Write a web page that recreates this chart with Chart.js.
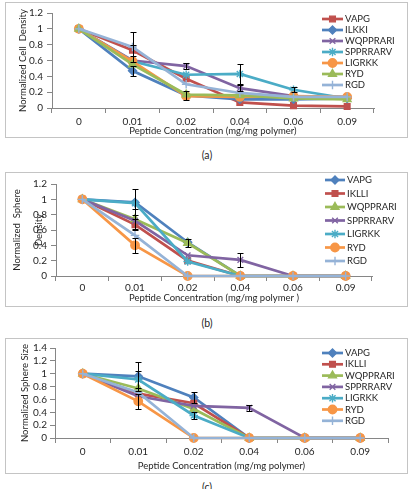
<!DOCTYPE html>
<html><head><meta charset="utf-8">
<script src="https://cdn.jsdelivr.net/npm/chart.js@4"></script>
<style>
html,body{margin:0;padding:0;background:#fff;overflow:hidden;width:410px;height:489px;}
.box{position:absolute;box-sizing:border-box;border:1px solid #c4c4c4;background:#fff;}
.box canvas{position:absolute;left:0;top:0;}
.cap{position:absolute;font:10.5px Lato, sans-serif;color:#262626;width:40px;text-align:center;line-height:12px;}
</style></head><body>
<div class="box" style="left:5px;top:2px;width:403px;height:136px;"><canvas id="cA" width="401" height="134"></canvas></div>
<div class="cap" style="left:187px;top:149px;">(a)</div>
<div class="box" style="left:5px;top:172px;width:403px;height:135px;"><canvas id="cB" width="401" height="133"></canvas></div>
<div class="cap" style="left:187px;top:317px;">(b)</div>
<div class="box" style="left:5px;top:338px;width:403px;height:136px;"><canvas id="cC" width="401" height="134"></canvas></div>
<div class="cap" style="left:187px;top:481px;">(c)</div>
<script>
// ---------- data ----------
const categories = ['0','0.01','0.02','0.04','0.06','0.09'];
const yTicks12 = ['0','0.2','0.4','0.6','0.8','1','1.2'];
const yTicks14 = ['0','0.2','0.4','0.6','0.8','1','1.2','1.4'];

// (a) Normalized cell density
const aNames = ['VAPG','ILKKI','WQPPRARI','SPPRRARV','LIGRKK','RYD','RGD'];
const aVAPG     = [1, 0.73, 0.37, 0.07, 0.03, 0.02];
const aILKKI    = [1, 0.47, 0.16, 0.11, 0.11, 0.12];
const aWQPPRARI = [1, 0.60, 0.53, 0.25, 0.15, 0.14];
const aSPPRRARV = [1, 0.59, 0.42, 0.43, 0.23, 0.12];
const aLIGRKK   = [1, 0.59, 0.15, 0.14, 0.15, 0.14];
const aRYD      = [1, 0.55, 0.17, 0.16, 0.12, 0.11];
const aRGD      = [1, 0.77, 0.30, 0.19, 0.14, 0.14];
const aVAPGErr     = [0, 0.07, 0, 0, 0, 0];
const aILKKIErr    = [0, 0.06, 0.06, 0, 0, 0];
const aWQPPRARIErr = [0, 0, 0.04, 0.04, 0, 0];
const aSPPRRARVErr = [0, 0, 0, 0.13, 0.03, 0];
const aLIGRKKErr   = [0, 0, 0, 0, 0, 0];
const aRYDErr      = [0, 0, 0, 0, 0, 0];
const aRGDErr      = [0, 0.19, 0, 0, 0, 0];

// (b) Normalized sphere density
const bNames = ['VAPG','IKLLI','WQPPRARI','SPPRRARV','LIGRKK','RYD','RGD'];
const bVAPG     = [1, 0.96, 0.44, 0, 0, 0];
const bIKLLI    = [1, 0.67, 0.20, 0, 0, 0];
const bWQPPRARI = [1, 0.74, 0.43, 0, 0, 0];
const bSPPRRARV = [1, 0.72, 0.27, 0.21, 0, 0];
const bLIGRKK   = [1, 0.95, 0.19, 0, 0, 0];
const bRYD      = [1, 0.40, 0, 0, 0, 0];
const bRGD      = [1, 0.53, 0, 0, 0, 0];
const bVAPGErr     = [0, 0.17, 0, 0, 0, 0];
const bIKLLIErr    = [0, 0.07, 0, 0, 0, 0];
const bWQPPRARIErr = [0, 0.13, 0.05, 0, 0, 0];
const bSPPRRARVErr = [0, 0, 0, 0.09, 0, 0];
const bLIGRKKErr   = [0, 0, 0, 0, 0, 0];
const bRYDErr      = [0, 0.10, 0, 0, 0, 0];
const bRGDErr      = [0, 0, 0, 0, 0, 0];

// (c) Normalized sphere size
const cNames = ['VAPG','IKLLI','WQPPRARI','SPPRRARV','LIGRKK','RYD','RGD'];
const cVAPG     = [1, 0.96, 0.63, 0, 0, 0];
const cIKLLI    = [1, 0.69, 0.54, 0, 0, 0];
const cWQPPRARI = [1, 0.77, 0.45, 0, 0, 0];
const cSPPRRARV = [1, 0.65, 0.50, 0.47, 0, 0];
const cLIGRKK   = [1, 0.91, 0.35, 0, 0, 0];
const cRYD      = [1, 0.57, 0, 0, 0, 0];
const cRGD      = [1, 0.71, 0, 0, 0, 0];
const cVAPGErr     = [0, 0.23, 0.08, 0, 0, 0];
const cIKLLIErr    = [0, 0, 0, 0, 0, 0];
const cWQPPRARIErr = [0, 0, 0, 0, 0, 0];
const cSPPRRARVErr = [0, 0, 0, 0.05, 0, 0];
const cLIGRKKErr   = [0, 0.13, 0.05, 0, 0, 0];
const cRYDErr      = [0, 0.12, 0, 0, 0, 0];
const cRGDErr      = [0, 0, 0, 0, 0, 0];

// ---------- styles ----------
const ST = {
  blue:  {c:'#4F81BD', p:'rectRot',  r:4},
  red:   {c:'#C0504D', p:'rect',     r:4},
  green: {c:'#9BBB59', p:'triangle', r:4.5},
  purple:{c:'#8064A2', p:'crossRot', r:4},
  aqua:  {c:'#4BACC6', p:'star',     r:4.3},
  orange:{c:'#F79646', p:'circle',   r:4.2},
  lblue: {c:'#95B3D7', p:'cross',    r:4.3}
};
const TXT = '#262626';
const AXIS = '#868686';
const FONT = 'Lato, "Liberation Sans", sans-serif';

const errPlugin = {
  id: 'errBars',
  afterDatasetsDraw(chart) {
    const ctx = chart.ctx, ys = chart.scales.y;
    ctx.save();
    ctx.strokeStyle = '#000'; ctx.lineWidth = 1;
    chart.data.datasets.forEach((ds, i) => {
      if (!ds.errors) return;
      const meta = chart.getDatasetMeta(i);
      ds.errors.forEach((e, j) => {
        if (!e) return;
        const x = Math.round(meta.data[j].x) + 0.5;
        const v = ds.data[j];
        const yt = Math.round(ys.getPixelForValue(v + e)) + 0.5;
        const yb = Math.round(ys.getPixelForValue(v - e)) + 0.5;
        ctx.beginPath();
        ctx.moveTo(x, yt); ctx.lineTo(x, yb);
        ctx.moveTo(x - 3, yt); ctx.lineTo(x + 3, yt);
        ctx.moveTo(x - 3, yb); ctx.lineTo(x + 3, yb);
        ctx.stroke();
      });
    });
    ctx.restore();
  }
};

const legendPlugin = {
  id: 'xLegend',
  afterDraw(chart, args, o) {
    const ctx = chart.ctx;
    ctx.save();
    chart.data.datasets.forEach((ds, i) => {
      const y = o.y0 + i * o.dy;
      ctx.strokeStyle = ds.borderColor; ctx.lineWidth = ds.borderWidth;
      ctx.beginPath(); ctx.moveTo(o.x0, y); ctx.lineTo(o.x1, y); ctx.stroke();
      ctx.fillStyle = ds.pointBackgroundColor; ctx.strokeStyle = ds.pointBorderColor;
      ctx.lineWidth = ds.pointBorderWidth;
      Chart.helpers.drawPoint(ctx, {pointStyle: ds.pointStyle, radius: ds.pointRadius, rotation: 0, borderWidth: ds.pointBorderWidth}, (o.x0 + o.x1) / 2, y);
      ctx.fillStyle = TXT; ctx.font = o.font; ctx.textBaseline = 'middle'; ctx.textAlign = 'left';
      ctx.fillText(ds.label, o.tx, y);
    });
    ctx.restore();
  }
};

function makeChart(id, names, series, errs, styles, yMax, yLabels, L) {
  const canvas = document.getElementById(id);
  const W = canvas.width, H = canvas.height;
  const datasets = names.map((n, i) => {
    const s = ST[styles[i]];
    return {
      label: n, data: series[i], errors: errs[i],
      borderColor: s.c, backgroundColor: s.c, borderWidth: 2.7,
      pointStyle: s.p, pointRadius: s.r, pointBackgroundColor: s.c, pointBorderColor: s.c,
      pointBorderWidth: 1.4, tension: 0, clip: false, order: names.length - i
    };
  });
  return new Chart(canvas, {
    type: 'line',
    data: {labels: categories, datasets},
    plugins: [errPlugin, legendPlugin],
    options: {
      responsive: false, animation: false, devicePixelRatio: 1,
      layout: {padding: {left: 0, top: L.top, right: W - L.right, bottom: 0}},
      plugins: {legend: {display: false}, tooltip: {enabled: false}, xLegend: L.legend},
      scales: {
        x: {
          type: 'category', offset: true,
          grid: {offset: true, drawOnChartArea: false, drawTicks: true, tickLength: 5, color: AXIS},
          border: {display: true, color: AXIS, width: 1},
          ticks: {color: TXT, font: {family: FONT, size: 10}, padding: L.xtp, maxRotation: 0, autoSkip: false},
          title: {display: true, text: L.xTitle, color: TXT, font: {family: FONT, size: 9.5}, padding: {top: 0, bottom: L.xtb}},
          afterFit: s => { s.height = H - L.bottom; }
        },
        y: {
          min: 0, max: yMax,
          grid: {drawOnChartArea: false, drawTicks: true, tickLength: 5, color: AXIS},
          border: {display: true, color: AXIS, width: 1},
          ticks: {stepSize: 0.2, autoSkip: false, color: TXT, font: {family: FONT, size: 10}, padding: L.ytp,
                  callback: (v, i) => yLabels[i] !== undefined ? yLabels[i] : String(+v.toFixed(1))},
          title: {display: true, text: L.yTitle, color: TXT, font: {family: FONT, size: 9.5, lineHeight: L.ylh}, padding: {top: L.ytt, bottom: 0}},
          afterFit: s => { s.width = L.left; }
        }
      }
    }
  });
}

makeChart('cA', aNames,
  [aVAPG, aILKKI, aWQPPRARI, aSPPRRARV, aLIGRKK, aRYD, aRGD],
  [aVAPGErr, aILKKIErr, aWQPPRARIErr, aSPPRRARVErr, aLIGRKKErr, aRYDErr, aRGDErr],
  ['red','blue','purple','aqua','orange','green','lblue'], 1.2, yTicks12,
  {left: 46, right: 368, top: 10, bottom: 105, xtp: 2.5, xtb: 0, ytp: 4, ytt: 11, ylh: 1.2,
   xTitle: 'Peptide Concentration (mg/mg polymer)', yTitle: 'Normalized Cell  Density',
   legend: {x0: 316, x1: 337, tx: 339, y0: 16, dy: 11, font: '9.5px ' + FONT}});

makeChart('cB', bNames,
  [bVAPG, bIKLLI, bWQPPRARI, bSPPRRARV, bLIGRKK, bRYD, bRGD],
  [bVAPGErr, bIKLLIErr, bWQPPRARIErr, bSPPRRARVErr, bLIGRKKErr, bRYDErr, bRGDErr],
  ['blue','red','green','purple','aqua','orange','lblue'], 1.2, yTicks12,
  {left: 50, right: 366, top: 11, bottom: 103, xtp: 0.5, xtb: 2.5, ytp: 4, ytt: 0, ylh: 2.3,
   xTitle: 'Peptide Concentration (mg/mg polymer )', yTitle: ['Normalized  Sphere', 'Density'],
   legend: {x0: 319, x1: 339, tx: 341, y0: 7, dy: 13.5, font: '9.5px ' + FONT}});

makeChart('cC', cNames,
  [cVAPG, cIKLLI, cWQPPRARI, cSPPRRARV, cLIGRKK, cRYD, cRGD],
  [cVAPGErr, cIKLLIErr, cWQPPRARIErr, cSPPRRARVErr, cLIGRKKErr, cRYDErr, cRGDErr],
  ['blue','red','green','purple','aqua','orange','lblue'], 1.4, yTicks14,
  {left: 49, right: 382, top: 8, bottom: 99, xtp: 3, xtb: 1.6, ytp: 3, ytt: 13.3, ylh: 1.2,
   xTitle: 'Peptide Concentration (mg/mg polymer)', yTitle: 'Normalized Sphere Size',
   legend: {x0: 316, x1: 337, tx: 339, y0: 14, dy: 11.3, font: '9.5px ' + FONT}});
</script>
</body></html>
